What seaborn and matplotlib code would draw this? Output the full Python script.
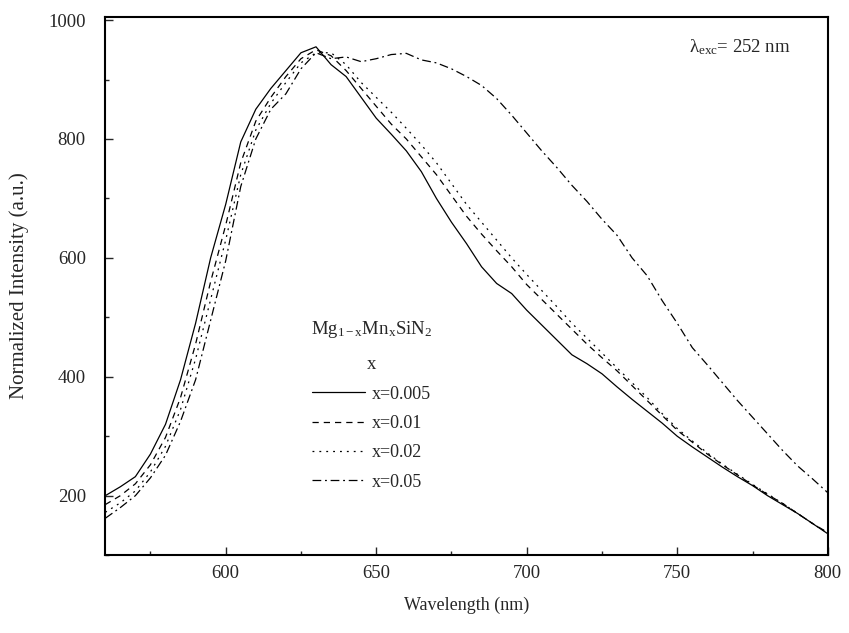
import numpy as np
import pandas as pd
import matplotlib
matplotlib.use("Agg")
import matplotlib.pyplot as plt
from matplotlib.ticker import MultipleLocator
import seaborn as sns

sns.set_theme(style="white")
plt.rcParams['font.family'] = ['Liberation Serif', 'DejaVu Serif']
plt.rcParams['mathtext.fontset'] = 'custom'
plt.rcParams['mathtext.rm'] = 'Liberation Serif'
plt.rcParams['mathtext.it'] = 'Liberation Serif:italic'

wavelength = [560, 565, 570, 575, 580, 585, 590, 595, 600, 605, 610, 615, 620, 625, 630,
              635, 640, 645, 650, 655, 660, 665, 670, 675, 680, 685, 690, 695, 700,
              705, 710, 715, 720, 725, 730, 735, 740, 745, 750, 755, 760, 765, 770,
              775, 780, 785, 790, 795, 800]

x_0005 = [200, 215, 232, 270, 320, 395, 490, 600, 690, 795, 850, 885, 915, 945, 955,
          925, 905, 870, 835, 808, 780, 745, 700, 660, 624, 585, 557, 540, 512,
          487, 462, 437, 422, 405, 383, 362, 342, 322, 300, 282, 265, 248, 232,
          217, 200, 185, 170, 153, 136]
x_001 = [185, 200, 220, 252, 298, 365, 455, 560, 655, 760, 830, 870, 905, 935, 950,
         940, 915, 885, 855, 825, 800, 770, 740, 705, 670, 640, 612, 585, 555,
         530, 505, 480, 455, 432, 410, 385, 360, 335, 310, 290, 270, 252, 235,
         218, 202, 187, 170, 153, 138]
x_002 = [172, 188, 208, 240, 283, 345, 430, 530, 630, 740, 815, 860, 895, 928, 945,
         945, 925, 895, 870, 845, 818, 790, 760, 725, 690, 660, 630, 600, 572,
         545, 518, 490, 465, 440, 415, 390, 365, 338, 313, 292, 272, 253, 236,
         219, 203, 187, 170, 153, 137]
x_005 = [162, 180, 200, 230, 268, 325, 395, 495, 595, 720, 800, 850, 876, 918, 945,
         935, 938, 930, 935, 942, 944, 933, 928, 918, 905, 890, 868, 840, 810,
         780, 752, 722, 695, 665, 638, 600, 570, 528, 490, 449, 420, 390, 360,
         332, 304, 276, 250, 228, 205]

labels = ["x=0.005", "x=0.01", "x=0.02", "x=0.05"]
series = [x_0005, x_001, x_002, x_005]
styles = ['-', (0, (5, 4)), (0, (1.5, 4)), (0, (7, 3, 1.5, 3))]

fig = plt.figure(figsize=(8.49, 6.33), dpi=100)
ax = fig.add_axes([0.124, 0.123, 0.851, 0.85])

for lab, vals, ls in zip(labels, series, styles):
    df = pd.DataFrame({"Wavelength": wavelength, "Intensity": vals})
    sns.lineplot(data=df, x="Wavelength", y="Intensity", ax=ax, color='black',
                 linewidth=0.9, linestyle=ls, label=lab)

ax.set_xlim(560, 800)
ax.set_ylim(100, 1005)
ax.xaxis.set_major_locator(MultipleLocator(50))
ax.xaxis.set_minor_locator(MultipleLocator(25))
ax.yaxis.set_major_locator(MultipleLocator(200))
ax.yaxis.set_minor_locator(MultipleLocator(100))
ax.set_yticks([200, 400, 600, 800, 1000])
ax.tick_params(which='major', direction='in', length=6, width=1, labelsize=13.5,
               bottom=True, left=True, top=False, right=False)
ax.tick_params(axis='x', which='major', pad=7)
ax.tick_params(axis='y', which='major', pad=14)
ax.tick_params(which='minor', direction='in', length=3, width=1,
               bottom=True, left=True, top=False, right=False)
for sp in ax.spines.values():
    sp.set_color('black')
    sp.set_linewidth(1.5)

ax.set_xlabel("Wavelength (nm)", fontsize=13, labelpad=11)
ax.set_ylabel("Normalized Intensity (a.u.)", fontsize=15, labelpad=14)

ax.text(0.878, 0.945, r"λ$_{\mathrm{exc}}$= 252 nm", transform=ax.transAxes,
        fontsize=13.5, ha='center', va='center')

leg = ax.legend(title="Mg$_{\\mathrm{1-x}}$Mn$_{\\mathrm{x}}$SiN$_{\\mathrm{2}}$\nx",
                loc='upper left',
                bbox_to_anchor=(0.262, 0.47), frameon=False, fontsize=13,
                title_fontsize=13.5, handlelength=2.9, handletextpad=0.4,
                labelspacing=0.68)
leg.get_title().set_multialignment('center')
leg.get_title().set_linespacing(2.3)

fig.savefig("out.png", dpi=100)
